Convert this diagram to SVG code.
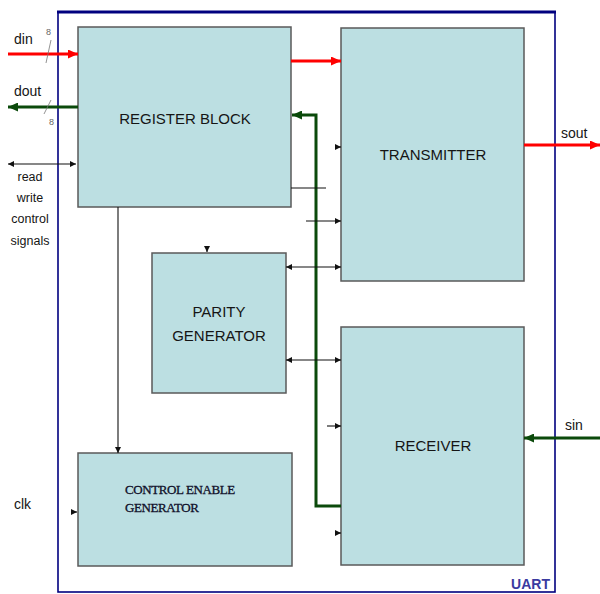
<svg xmlns="http://www.w3.org/2000/svg" width="600" height="594" viewBox="0 0 600 594">
<defs>
<style>
.blk{fill:#bcdfe2;stroke:#5a5a5a;stroke-width:1.5}
.lbl{font-family:"Liberation Sans",Arial,sans-serif;font-size:15px;fill:#151515;text-anchor:middle}
.side{font-family:"Liberation Sans",Arial,sans-serif;font-size:14px;fill:#151515}
.small{font-family:"Liberation Sans",Arial,sans-serif;font-size:12.5px;fill:#151515;text-anchor:middle}
.serif{font-family:"Liberation Serif","Times New Roman",serif;font-size:13px;fill:#10102a;letter-spacing:-0.4px;stroke:#10102a;stroke-width:0.3}
.thin{stroke:#111;stroke-width:1.1;fill:none}
.red{stroke:#ff0000;stroke-width:3;fill:none}
.grn{stroke:#0b4a0b;stroke-width:3;fill:none}
.tiny{font-family:"Liberation Sans",Arial,sans-serif;font-size:9px;fill:#666}
</style>
<marker id="ab" viewBox="0 0 6 6" refX="6" refY="3" markerWidth="6" markerHeight="6" markerUnits="userSpaceOnUse" orient="auto-start-reverse"><path d="M0,0 L6,3 L0,6 z" fill="#111"/></marker>
<marker id="ar" viewBox="0 0 10 9" refX="10" refY="4.5" markerWidth="10" markerHeight="9" markerUnits="userSpaceOnUse" orient="auto"><path d="M0,0 L10,4.5 L0,9 z" fill="#ff0000"/></marker>
<marker id="ag" viewBox="0 0 10 9" refX="10" refY="4.5" markerWidth="10" markerHeight="9" markerUnits="userSpaceOnUse" orient="auto"><path d="M0,0 L10,4.5 L0,9 z" fill="#0b4a0b"/></marker>
</defs>
<rect width="600" height="594" fill="#ffffff"/>
<g id="uart">
<rect x="58" y="12" width="497" height="580" fill="none" stroke="#00007f" stroke-width="1.6"/>
<line x1="57" y1="12" x2="556" y2="12" stroke="#00007f" stroke-width="3"/>
<text x="550" y="589" text-anchor="end" font-family="Liberation Sans,Arial,sans-serif" font-size="14" font-weight="bold" fill="#3a3aa0">UART</text>
</g>
<g id="register-block">
<rect class="blk" x="78" y="27" width="213" height="180"/>
<text class="lbl" x="185" y="124">REGISTER BLOCK</text>
</g>
<g id="transmitter">
<rect class="blk" x="341" y="28" width="183" height="253"/>
<text class="lbl" x="433" y="160">TRANSMITTER</text>
</g>
<g id="parity-generator">
<rect class="blk" x="152" y="253" width="134" height="140"/>
<text class="lbl" x="219" y="317">PARITY</text>
<text class="lbl" x="219" y="341">GENERATOR</text>
</g>
<g id="receiver">
<rect class="blk" x="341" y="327" width="183" height="238"/>
<text class="lbl" x="433" y="451">RECEIVER</text>
</g>
<g id="control-enable-generator">
<rect class="blk" x="78" y="453" width="214" height="113"/>
<text class="serif" x="125" y="494">CONTROL ENABLE</text>
<text class="serif" x="125" y="512">GENERATOR</text>
</g>
<g id="labels">
<text class="side" x="14" y="44">din</text>
<text class="side" x="14" y="96">dout</text>
<text class="small" x="30" y="181">read</text>
<text class="small" x="30" y="202">write</text>
<text class="small" x="30" y="223">control</text>
<text class="small" x="30" y="245">signals</text>
<text class="side" x="561" y="138">sout</text>
<text class="side" x="565" y="430">sin</text>
<text class="side" x="14" y="509">clk</text>
<text class="tiny" x="46" y="35">8</text>
<text class="tiny" x="49" y="125">8</text>
</g>
<g id="connectors">
<line class="red" x1="8" y1="54" x2="78" y2="54" marker-end="url(#ar)"/>
<line x1="51" y1="40" x2="46" y2="63" stroke="#777" stroke-width="0.8"/>
<line class="grn" x1="78" y1="107" x2="8" y2="107" marker-end="url(#ag)"/>
<line x1="51" y1="100" x2="44" y2="114" stroke="#777" stroke-width="0.8"/>
<line class="thin" x1="8" y1="164" x2="76" y2="164" marker-start="url(#ab)" marker-end="url(#ab)"/>
<line class="red" x1="291" y1="61" x2="341" y2="61" marker-end="url(#ar)"/>
<polyline class="grn" points="341,506 316,506 316,115 292,115" marker-end="url(#ag)"/>
<line class="red" x1="524" y1="145" x2="600" y2="145" marker-end="url(#ar)"/>
<line class="grn" x1="600" y1="438" x2="524" y2="438" marker-end="url(#ag)"/>
<line class="thin" x1="336" y1="147" x2="341" y2="147" marker-end="url(#ab)"/>
<line class="thin" x1="291" y1="188" x2="326" y2="188"/>
<line class="thin" x1="306" y1="221" x2="341" y2="221" marker-end="url(#ab)"/>
<line class="thin" x1="286" y1="267" x2="341" y2="267" marker-start="url(#ab)" marker-end="url(#ab)"/>
<line class="thin" x1="286" y1="360" x2="341" y2="360" marker-start="url(#ab)" marker-end="url(#ab)"/>
<line class="thin" x1="327" y1="426" x2="341" y2="426" marker-end="url(#ab)"/>
<line class="thin" x1="336" y1="533" x2="341" y2="533" marker-end="url(#ab)"/>
<line class="thin" x1="118" y1="207" x2="118" y2="453" marker-end="url(#ab)"/>
<line class="thin" x1="207" y1="246" x2="207" y2="252" marker-end="url(#ab)"/>
<line class="thin" x1="71" y1="512" x2="77" y2="512" marker-end="url(#ab)"/>
</g>
</svg>
